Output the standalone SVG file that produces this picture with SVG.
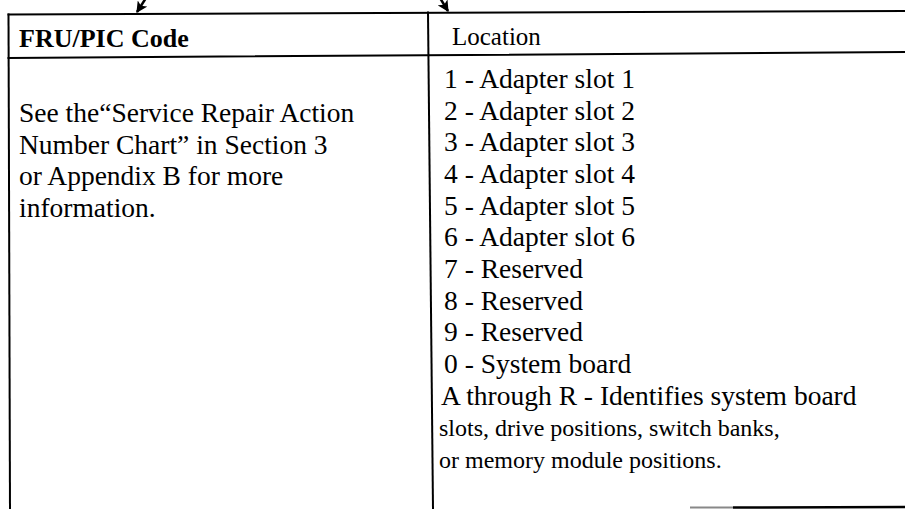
<svg xmlns="http://www.w3.org/2000/svg" width="905" height="509" viewBox="0 0 905 509">
  <style>
    .rule { stroke: #000; stroke-width: 2; fill: none; stroke-linecap: square; }
    .head { font-family: "Liberation Serif", "Times New Roman", serif; font-size: 25px; fill: #000; }
    .bold { font-weight: bold; font-size: 26px; }
    .body { font-family: "Liberation Serif", "Times New Roman", serif; font-size: 27.5px; fill: #000; }
    .times { font-family: "Liberation Serif", "Times New Roman", serif; font-size: 24px; fill: #000; }
    .lead { stroke: #000; stroke-width: 2.5; fill: none; }
  </style>
  <defs>
    <marker id="tip" viewBox="0 0 10 10" refX="9" refY="5" markerWidth="5" markerHeight="4.5" orient="auto" markerUnits="strokeWidth">
      <path d="M0,0 L10,5 L0,10 L2.5,5 Z" fill="#000"/>
    </marker>
  </defs>
  <rect width="905" height="509" fill="#fff"/>

  <!-- table frame -->
  <g id="frame">
    <line class="rule" x1="8.5" y1="14.5" x2="905" y2="11"/>
    <line class="rule" x1="8.5" y1="58" x2="905" y2="52" stroke-width="2.5"/>
    <line class="rule" x1="8.5" y1="14.5" x2="10" y2="509"/>
    <line class="rule" x1="428" y1="12.5" x2="433" y2="509"/>
    <line x1="690" y1="507.5" x2="733" y2="507.5" stroke="#888" stroke-width="2"/>
    <line x1="733" y1="507.5" x2="905" y2="507" stroke="#000" stroke-width="2.5"/>
  </g>

  <!-- leader arrows entering the table from above -->
  <g id="connectors">
    <path class="lead" d="M146,-2 L137,12" marker-end="url(#tip)"/>
    <path class="lead" d="M440,-2 L448,11" marker-end="url(#tip)"/>
  </g>

  <!-- column headers -->
  <g id="header-code">
    <text class="head bold" x="19" y="47">FRU/PIC Code</text>
  </g>
  <g id="header-location">
    <text class="head" x="452" y="45">Location</text>
  </g>

  <!-- FRU/PIC code column -->
  <g id="code-text" class="body">
    <text x="19" y="122">See the“Service Repair Action</text>
    <text x="19" y="153.5">Number Chart” in Section 3</text>
    <text x="19" y="185">or Appendix B for more</text>
    <text x="19" y="216.5">information.</text>
  </g>

  <!-- location column -->
  <g id="location-text">
    <text class="body" x="444" y="88">1 - Adapter slot 1</text>
    <text class="body" x="444" y="119.6">2 - Adapter slot 2</text>
    <text class="body" x="444" y="151.3">3 - Adapter slot 3</text>
    <text class="body" x="444" y="183">4 - Adapter slot 4</text>
    <text class="body" x="444" y="214.6">5 - Adapter slot 5</text>
    <text class="body" x="444" y="246.3">6 - Adapter slot 6</text>
    <text class="body" x="444" y="278">7 - Reserved</text>
    <text class="body" x="444" y="309.6">8 - Reserved</text>
    <text class="body" x="444" y="341.3">9 - Reserved</text>
    <text class="body" x="444" y="373">0 - System board</text>
    <text class="body" x="441" y="404.6">A through R - Identifies system board</text>
    <text class="times" x="439" y="436.3">slots, drive positions, switch banks,</text>
    <text class="times" x="439" y="468">or memory module positions.</text>
  </g>
</svg>
